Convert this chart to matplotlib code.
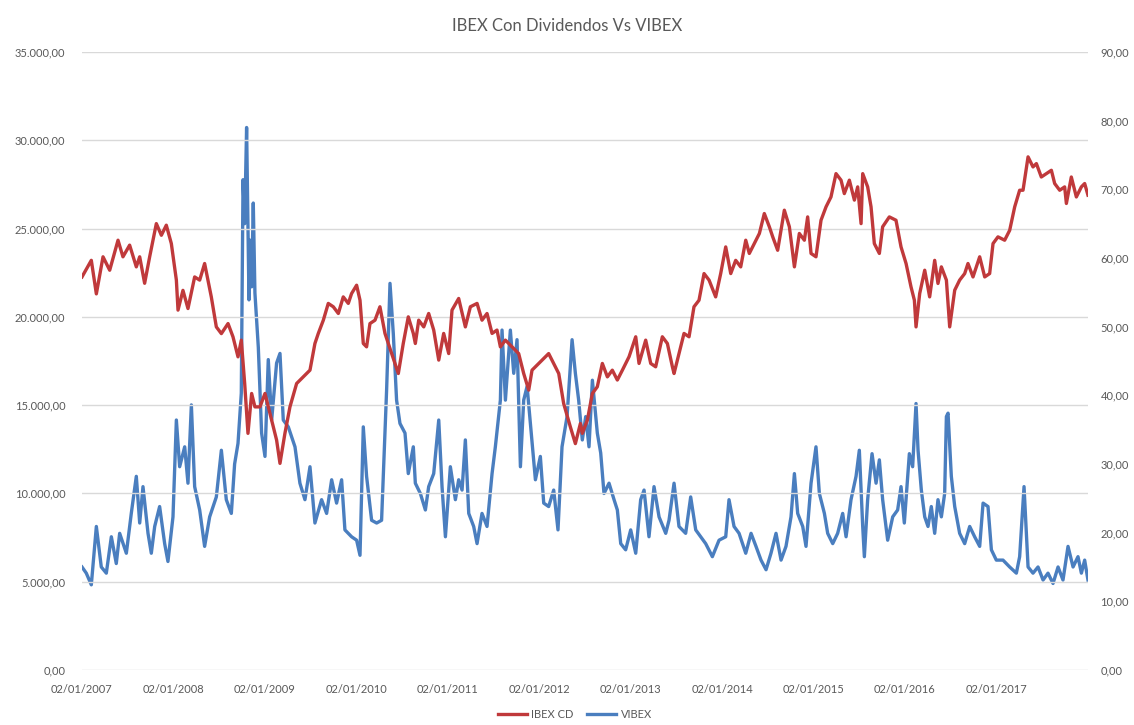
import matplotlib
matplotlib.use("Agg")
import matplotlib.pyplot as plt
from matplotlib.ticker import FuncFormatter
import pandas as pd
import numpy as np

# ---- data (decimal years) ----
ibex_t = [2007.000, 2007.102, 2007.157, 2007.230, 2007.303, 2007.394, 2007.448, 2007.521, 2007.594, 2007.631,
          2007.685, 2007.740, 2007.813, 2007.868, 2007.922, 2007.977, 2008.032, 2008.050, 2008.104, 2008.159,
          2008.232, 2008.287, 2008.341, 2008.414, 2008.469, 2008.524, 2008.597, 2008.651, 2008.706, 2008.742,
          2008.779, 2008.815, 2008.855, 2008.891, 2008.946, 2009.001, 2009.074, 2009.128, 2009.165, 2009.219,
          2009.274, 2009.347, 2009.420, 2009.493, 2009.547, 2009.584, 2009.639, 2009.693, 2009.748, 2009.803,
          2009.857, 2009.912, 2009.948, 2010.003, 2010.040, 2010.076, 2010.112, 2010.149, 2010.204, 2010.258,
          2010.313, 2010.386, 2010.459, 2010.513, 2010.568, 2010.623, 2010.645, 2010.682, 2010.737, 2010.791,
          2010.846, 2010.901, 2010.955, 2011.010, 2011.046, 2011.119, 2011.192, 2011.247, 2011.320, 2011.374,
          2011.429, 2011.484, 2011.538, 2011.575, 2011.630, 2011.702, 2011.775, 2011.830, 2011.885, 2011.921,
          2011.994, 2012.067, 2012.103, 2012.158, 2012.213, 2012.267, 2012.340, 2012.395, 2012.450, 2012.471,
          2012.526, 2012.581, 2012.635, 2012.690, 2012.745, 2012.799, 2012.854, 2012.909, 2012.982, 2013.055,
          2013.091, 2013.164, 2013.219, 2013.273, 2013.346, 2013.401, 2013.456, 2013.474, 2013.528, 2013.583,
          2013.638, 2013.692, 2013.747, 2013.802, 2013.857, 2013.929, 2013.984, 2014.039, 2014.094, 2014.148,
          2014.203, 2014.258, 2014.297, 2014.352, 2014.407, 2014.461, 2014.516, 2014.553, 2014.607, 2014.680,
          2014.735, 2014.790, 2014.844, 2014.899, 2014.935, 2014.972, 2015.026, 2015.081, 2015.136, 2015.190,
          2015.245, 2015.300, 2015.336, 2015.391, 2015.446, 2015.482, 2015.519, 2015.537, 2015.591, 2015.628,
          2015.664, 2015.719, 2015.755, 2015.828, 2015.901, 2015.956, 2016.011, 2016.065, 2016.102, 2016.120,
          2016.160, 2016.215, 2016.269, 2016.324, 2016.360, 2016.397, 2016.452, 2016.488, 2016.543, 2016.597,
          2016.652, 2016.688, 2016.743, 2016.816, 2016.871, 2016.925, 2016.962, 2017.016, 2017.089, 2017.144,
          2017.199, 2017.253, 2017.290, 2017.345, 2017.399, 2017.436, 2017.490, 2017.545, 2017.600, 2017.636,
          2017.691, 2017.745, 2017.764, 2017.818, 2017.873, 2017.928, 2017.964, 2018.000]
ibex_v = [22260, 23200, 21300, 23400, 22640, 24340, 23400, 24060, 22830, 23400,
          21900, 23400, 25280, 24620, 25190, 24150, 22080, 20380, 21500, 20470,
          22260, 22080, 23020, 21130, 19430, 19050, 19620, 18870, 17735, 18680,
          16225, 13400, 15660, 14900, 14900, 15660, 14150, 13020, 11700, 13400,
          14900, 16225, 16600, 16980, 18490, 19060, 19810, 20760, 20570, 20190,
          21130, 20760, 21320, 21790, 20940, 18490, 18300, 19620, 19810, 20570,
          19060, 17920, 16790, 18490, 20000, 19060, 18490, 19810, 19430, 20190,
          19250, 17550, 19060, 17920, 20380, 21040, 19430, 20570, 20760, 19810,
          20190, 19060, 19250, 18300, 18680, 18300, 17920, 16790, 15850, 16980,
          17360, 17740, 17920, 17360, 16790, 15090, 13770, 12820, 13960, 13400,
          14150, 15660, 16040, 17360, 16600, 16980, 16420, 16980, 17740, 18870,
          17360, 18680, 17360, 17170, 18870, 18490, 17170, 16790, 17920, 19060,
          18870, 20570, 20940, 22450, 22080, 21130, 22450, 23960, 22450, 23200,
          22830, 24340, 23590, 24150, 24720, 25850, 25100, 24530, 23770, 26040,
          25100, 22830, 24720, 24340, 25660, 23590, 23400, 25470, 26230, 26790,
          28110, 27740, 26980, 27740, 26610, 27360, 25280, 28110, 27360, 26230,
          24150, 23590, 25100, 25660, 25470, 23960, 23020, 21700, 20940, 19430,
          21320, 22640, 21130, 23200, 21890, 22830, 22080, 19430, 21510, 22080,
          22450, 23020, 22260, 23400, 22260, 22450, 24150, 24530, 24340, 24900,
          26230, 27170, 27170, 29060, 28490, 28680, 27920, 28110, 28300, 27550,
          27170, 27360, 26420, 27920, 26790, 27360, 27550, 26890]

vibex_t = [2007.000, 2007.047, 2007.102, 2007.157, 2007.211, 2007.266, 2007.321, 2007.375, 2007.412, 2007.485,
           2007.539, 2007.594, 2007.631, 2007.667, 2007.722, 2007.758, 2007.795, 2007.849, 2007.904, 2007.940,
           2007.995, 2008.032, 2008.068, 2008.123, 2008.159, 2008.196, 2008.232, 2008.287, 2008.341, 2008.396,
           2008.469, 2008.524, 2008.578, 2008.633, 2008.669, 2008.706, 2008.742, 2008.761, 2008.779, 2008.800,
           2008.826, 2008.837, 2008.855, 2008.873, 2008.891, 2008.928, 2008.964, 2009.001, 2009.037, 2009.074,
           2009.128, 2009.165, 2009.201, 2009.256, 2009.329, 2009.383, 2009.438, 2009.493, 2009.547, 2009.620,
           2009.675, 2009.730, 2009.784, 2009.839, 2009.875, 2009.948, 2010.003, 2010.040, 2010.076, 2010.112,
           2010.167, 2010.222, 2010.276, 2010.331, 2010.368, 2010.404, 2010.440, 2010.477, 2010.532, 2010.568,
           2010.623, 2010.645, 2010.700, 2010.755, 2010.791, 2010.846, 2010.901, 2010.937, 2010.974, 2011.028,
           2011.083, 2011.119, 2011.156, 2011.192, 2011.229, 2011.283, 2011.320, 2011.374, 2011.429, 2011.484,
           2011.520, 2011.575, 2011.593, 2011.630, 2011.684, 2011.721, 2011.757, 2011.794, 2011.830, 2011.867,
           2011.903, 2011.958, 2012.012, 2012.049, 2012.103, 2012.158, 2012.205, 2012.249, 2012.304, 2012.359,
           2012.395, 2012.431, 2012.471, 2012.508, 2012.544, 2012.581, 2012.635, 2012.672, 2012.708, 2012.763,
           2012.818, 2012.854, 2012.891, 2012.945, 2013.000, 2013.055, 2013.109, 2013.146, 2013.200, 2013.255,
           2013.310, 2013.383, 2013.419, 2013.474, 2013.528, 2013.601, 2013.656, 2013.711, 2013.765, 2013.820,
           2013.893, 2013.966, 2014.039, 2014.075, 2014.130, 2014.185, 2014.258, 2014.316, 2014.370, 2014.425,
           2014.480, 2014.534, 2014.589, 2014.644, 2014.698, 2014.753, 2014.790, 2014.826, 2014.881, 2014.917,
           2014.972, 2015.026, 2015.063, 2015.118, 2015.154, 2015.209, 2015.263, 2015.318, 2015.355, 2015.409,
           2015.464, 2015.500, 2015.537, 2015.555, 2015.591, 2015.639, 2015.683, 2015.719, 2015.755, 2015.810,
           2015.865, 2015.919, 2015.956, 2015.992, 2016.047, 2016.083, 2016.120, 2016.142, 2016.178, 2016.215,
           2016.251, 2016.287, 2016.324, 2016.360, 2016.397, 2016.433, 2016.452, 2016.470, 2016.506, 2016.543,
           2016.597, 2016.652, 2016.707, 2016.761, 2016.816, 2016.853, 2016.907, 2016.944, 2016.998, 2017.071,
           2017.144, 2017.217, 2017.253, 2017.301, 2017.345, 2017.399, 2017.454, 2017.509, 2017.563, 2017.618,
           2017.673, 2017.727, 2017.782, 2017.837, 2017.891, 2017.928, 2017.964, 2018.000]
vibex_v = [15.0, 14.1, 12.4, 20.9, 15.0, 14.1, 19.4, 15.5, 19.9, 17.0,
           22.8, 28.2, 21.4, 26.7, 19.9, 17.0, 20.9, 23.8, 18.4, 15.8,
           22.3, 36.4, 29.6, 32.5, 27.2, 38.6, 26.7, 23.3, 18.0, 22.3,
           25.2, 32.0, 24.8, 22.8, 30.0, 33.0, 40.3, 71.4, 65.0, 79.0,
           53.9, 62.6, 55.8, 68.0, 54.9, 47.0, 34.5, 31.1, 45.2, 36.4,
           44.7, 46.1, 36.4, 35.4, 32.5, 27.2, 24.8, 29.6, 21.4, 24.8,
           22.8, 27.7, 24.3, 27.7, 20.4, 19.4, 18.9, 16.7, 35.4, 28.2,
           21.8, 21.4, 21.8, 40.8, 56.3, 49.0, 39.3, 35.9, 34.5, 28.6,
           32.5, 27.2, 25.7, 23.3, 26.7, 28.6, 36.4, 26.7, 19.4, 29.6,
           24.8, 27.7, 26.2, 33.5, 22.8, 20.9, 18.4, 22.8, 20.9, 28.6,
           32.5, 39.3, 49.5, 39.3, 49.5, 43.2, 48.1, 29.6, 39.3, 41.3,
           35.9, 27.7, 31.1, 24.3, 23.8, 26.2, 20.4, 32.5, 36.9, 48.1,
           43.2, 39.3, 33.5, 36.9, 32.5, 42.2, 34.5, 31.6, 25.7, 27.2,
           24.8, 23.3, 18.4, 17.5, 20.4, 17.0, 24.8, 26.2, 19.4, 26.7,
           22.3, 19.9, 21.8, 27.2, 20.9, 19.9, 25.2, 20.4, 19.4, 18.4,
           16.5, 18.9, 19.4, 24.8, 20.9, 19.9, 17.0, 19.9, 18.0, 16.0,
           14.6, 17.0, 19.9, 16.0, 18.0, 22.3, 28.6, 22.8, 20.9, 18.0,
           27.2, 32.5, 25.7, 22.8, 19.9, 18.4, 19.9, 22.8, 19.4, 24.8,
           28.2, 32.0, 20.9, 16.5, 24.8, 31.5, 27.2, 30.6, 24.8, 18.9,
           22.3, 23.3, 26.7, 21.4, 31.5, 29.6, 38.8, 32.0, 26.2, 22.3,
           20.9, 23.8, 19.9, 24.8, 22.3, 25.7, 36.9, 37.4, 28.2, 23.8,
           19.9, 18.4, 20.9, 19.4, 18.0, 24.3, 23.8, 17.5, 16.0, 16.0,
           15.0, 14.1, 16.5, 26.7, 15.0, 14.1, 15.0, 13.1, 14.1, 12.6,
           15.0, 13.1, 18.0, 15.0, 16.5, 14.1, 16.0, 13.1]

tick_years = list(range(2007, 2018))
series_names = ["IBEX CD", "VIBEX"]
title = "IBEX Con Dividendos Vs VIBEX"

# ---- helpers ----
BASE = pd.Timestamp("2007-01-02")
def to_dates(ts):
    return [BASE + pd.to_timedelta((t - 2007.0) * 365.25, unit="D") for t in ts]

def es_fmt(v, _pos=None):
    s = f"{v:,.2f}"
    return s.replace(",", "X").replace(".", ",").replace("X", ".")

RED = "#C0393B"
BLUE = "#4A7EBF"
GREY_TXT = "#595959"
GRID = "#D9D9D9"

plt.rcParams["font.family"] = ["Lato", "DejaVu Sans"]

fig = plt.figure(figsize=(11.34, 7.25), dpi=100)
ax = fig.add_axes([0.0723, 0.0759, 0.8871, 0.8524])
ax2 = ax.twinx()

l1, = ax.plot(to_dates(ibex_t), ibex_v, color=RED, lw=2.4, solid_joinstyle="round", zorder=3)
l2, = ax2.plot(to_dates(vibex_t), vibex_v, color=BLUE, lw=2.4, solid_joinstyle="round", zorder=3)

ax.set_ylim(0, 35000)
ax2.set_ylim(0, 90)
ax.set_yticks(np.arange(0, 35001, 5000))
ax2.set_yticks(np.arange(0, 91, 10))
ax.yaxis.set_major_formatter(FuncFormatter(es_fmt))
ax2.yaxis.set_major_formatter(FuncFormatter(es_fmt))

xmin = BASE
xmax = BASE + pd.to_timedelta(11 * 365.25, unit="D")
ax.set_xlim(xmin, xmax)
ticks = [pd.Timestamp(f"{y}-01-02") for y in tick_years]
ax.set_xticks(ticks)
ax.set_xticklabels([f"02/01/{y}" for y in tick_years])

ax.grid(axis="y", color=GRID, lw=1.0, zorder=0)
ax.set_axisbelow(True)
for a in (ax, ax2):
    for sp in a.spines.values():
        sp.set_visible(False)
    a.tick_params(length=0, colors=GREY_TXT, labelsize=8)
ax.tick_params(axis="y", pad=12)
ax2.tick_params(axis="y", pad=9)
ax.tick_params(axis="x", pad=10)
ax.set_zorder(ax2.get_zorder() + 1)
ax.patch.set_visible(False)

fig.suptitle(title, y=0.975, fontsize=12, color=GREY_TXT)

fig.legend([l1, l2], series_names, loc="center", bbox_to_anchor=(0.507, 0.015),
           ncol=2, frameon=False, fontsize=8, handlelength=2.6, columnspacing=1.2,
           labelcolor=GREY_TXT, handletextpad=0.4)

fig.savefig("out.png", dpi=100, facecolor="white")
